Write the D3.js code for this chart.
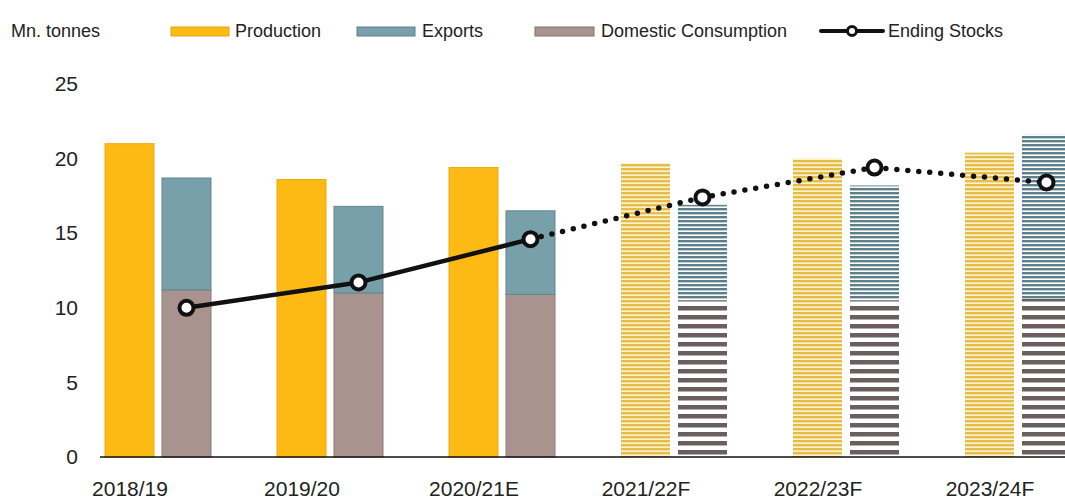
<!DOCTYPE html>
<html>
<head>
<meta charset="utf-8">
<script src="https://cdn.jsdelivr.net/npm/d3@7/dist/d3.min.js"></script>
<style>
  html, body { margin: 0; padding: 0; background: #fff; }
  svg { display: block; font-family: "Liberation Sans", Arial, sans-serif; }
</style>
</head>
<body>
<svg id="chart" width="1065" height="501"></svg>
<script>
// Marketing years (E = estimate, F = forecast)
const categories = ["2018/19", "2019/20", "2020/21E", "2021/22F", "2022/23F", "2023/24F"];
const isForecast = [false, false, false, true, true, true];
// Million tonnes
const production = [21.0, 18.6, 19.4, 19.7, 20.0, 20.4];
const domesticConsumption = [11.2, 11.0, 10.9, 10.5, 10.5, 10.6];
const exportsVol = [7.5, 5.8, 5.6, 6.4, 7.7, 11.0];
const endingStocks = [10.0, 11.7, 14.6, 17.4, 19.4, 18.4];
const yTicks = [0, 5, 10, 15, 20, 25];

const svg = d3.select("#chart");
const colors = {
  production: "#FDBA14",
  exports: "#77A0AA",
  consumption: "#A8938F"
};

// Horizontal-stripe fills for the forecast years
const defs = svg.append("defs");
function stripes(id, bg, fg, period, band) {
  const p = defs.append("pattern")
    .attr("id", id)
    .attr("patternUnits", "userSpaceOnUse")
    .attr("width", 8).attr("height", period);
  p.append("rect").attr("width", 8).attr("height", period).attr("fill", bg);
  p.append("rect").attr("width", 8).attr("height", band).attr("fill", fg);
}
stripes("hatch-prod", "#FFF4CC", "#E4BD4C", 4, 2.4);
stripes("hatch-exp", "#FFFFFF", "#5B808C", 4, 2.4);
stripes("hatch-cons", "#FFFFFF", "#6B5E5E", 9, 4.5);

const y = d3.scaleLinear().domain([0, 25]).range([457, 84]);
const x = d3.scaleBand().domain(categories).range([100, 100 + 172 * categories.length]).paddingInner(0).paddingOuter(0);
const xi = d3.scaleBand().domain(["prod", "use"]).range([5, 111]).paddingInner(0.14).paddingOuter(0);

const rows = categories.map((c, i) => ({
  cat: c,
  f: isForecast[i],
  prod: production[i],
  cons: domesticConsumption[i],
  exp: exportsVol[i],
  stock: endingStocks[i]
}));

const g = svg.append("g");

// Production bars
g.selectAll("rect.prod").data(rows).join("rect")
  .attr("class", "prod")
  .attr("x", d => x(d.cat) + xi("prod"))
  .attr("width", xi.bandwidth())
  .attr("y", d => y(d.prod))
  .attr("height", d => y(0) - y(d.prod))
  .attr("fill", d => d.f ? "url(#hatch-prod)" : colors.production)
  .attr("stroke", d => d.f ? "none" : "#EAAA10")
  .attr("stroke-width", 1);

// Domestic consumption (bottom of the stack)
g.selectAll("rect.cons").data(rows).join("rect")
  .attr("class", "cons")
  .attr("x", d => x(d.cat) + xi("use"))
  .attr("width", xi.bandwidth())
  .attr("y", d => y(d.cons))
  .attr("height", d => y(0) - y(d.cons))
  .attr("fill", d => d.f ? "url(#hatch-cons)" : colors.consumption)
  .attr("stroke", d => d.f ? "none" : "#8F7B78")
  .attr("stroke-width", 1);

// Exports stacked on top of consumption
g.selectAll("rect.exp").data(rows).join("rect")
  .attr("class", "exp")
  .attr("x", d => x(d.cat) + xi("use"))
  .attr("width", xi.bandwidth())
  .attr("y", d => y(d.cons + d.exp))
  .attr("height", d => y(d.cons) - y(d.cons + d.exp))
  .attr("fill", d => d.f ? "url(#hatch-exp)" : colors.exports)
  .attr("stroke", d => d.f ? "none" : "#62878F")
  .attr("stroke-width", 1);

// Baseline
svg.append("line")
  .attr("x1", 100).attr("x2", 1065)
  .attr("y1", y(0)).attr("y2", y(0))
  .attr("stroke", "#111").attr("stroke-width", 1.6);

// Y axis labels (no axis line)
const yAxis = d3.axisLeft(y).tickValues(yTicks).tickSize(0).tickPadding(0);
svg.append("g")
  .attr("transform", "translate(78,0)")
  .call(yAxis)
  .call(s => s.select(".domain").remove())
  .call(s => s.selectAll("text")
    .attr("font-size", 21)
    .attr("fill", "#222")
    .attr("font-family", "Liberation Sans, Arial, sans-serif"));

// X axis labels
const xAxis = d3.axisBottom(x).tickSize(0).tickPadding(0);
svg.append("g")
  .attr("transform", "translate(30,481)")
  .call(xAxis)
  .call(s => s.select(".domain").remove())
  .call(s => s.selectAll(".tick").attr("transform", d => `translate(${x(d)},0)`))
  .call(s => s.selectAll("text")
    .attr("font-size", 21)
    .attr("fill", "#222")
    .attr("font-family", "Liberation Sans, Arial, sans-serif"));

// Ending stocks line: solid for history, dotted for forecasts
const cx = d => x(d.cat) + xi("use") + xi.bandwidth() / 2;
const line = d3.line().x(cx).y(d => y(d.stock));
const lastActual = 2;
svg.append("path")
  .datum(rows.slice(0, lastActual + 1))
  .attr("d", line)
  .attr("fill", "none")
  .attr("stroke", "#111")
  .attr("stroke-width", 4.5)
  .attr("stroke-linejoin", "round");
svg.append("path")
  .datum(rows.slice(lastActual))
  .attr("d", line)
  .attr("fill", "none")
  .attr("stroke", "#111")
  .attr("stroke-width", 5.5)
  .attr("stroke-linecap", "round")
  .attr("stroke-dasharray", "0 11");
svg.selectAll("circle.stock").data(rows).join("circle")
  .attr("class", "stock")
  .attr("cx", cx)
  .attr("cy", d => y(d.stock))
  .attr("r", 7)
  .attr("fill", "#fff")
  .attr("stroke", "#111")
  .attr("stroke-width", 4);

// Unit label and legend
const legend = svg.append("g").attr("font-size", 18).attr("fill", "#222");
legend.append("text").attr("x", 11).attr("y", 37).text("Mn. tonnes");

const legendItems = [
  { label: "Production", color: colors.production, stroke: "#E0A80E", x0: 171, x1: 229, tx: 235 },
  { label: "Exports", color: colors.exports, stroke: "#5E818B", x0: 357, x1: 415, tx: 422 },
  { label: "Domestic Consumption", color: colors.consumption, stroke: "#86716F", x0: 535, x1: 594, tx: 601 }
];
legendItems.forEach(it => {
  legend.append("rect")
    .attr("x", it.x0).attr("y", 27)
    .attr("width", it.x1 - it.x0).attr("height", 9)
    .attr("fill", it.color).attr("stroke", it.stroke).attr("stroke-width", 1);
  legend.append("text").attr("x", it.tx).attr("y", 37).text(it.label);
});
legend.append("line")
  .attr("x1", 821).attr("x2", 883).attr("y1", 31).attr("y2", 31)
  .attr("stroke", "#111").attr("stroke-width", 4).attr("stroke-linecap", "round");
legend.append("circle")
  .attr("cx", 852).attr("cy", 31).attr("r", 4.5)
  .attr("fill", "#fff").attr("stroke", "#111").attr("stroke-width", 3);
legend.append("text").attr("x", 888).attr("y", 37).text("Ending Stocks");
</script>
</body>
</html>
